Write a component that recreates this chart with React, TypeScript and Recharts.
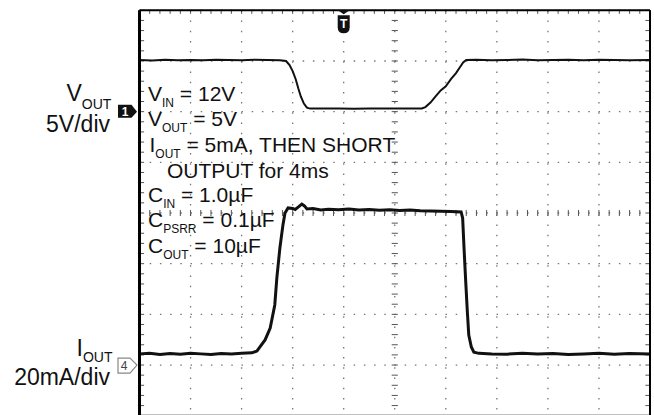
import React from 'react';
import { LineChart, Line, XAxis, YAxis, CartesianGrid, ReferenceLine, ReferenceDot } from 'recharts';

// time axis in divisions (10 div across), traces in real units
const voutTime = [0, 0.25, 0.5, 0.75, 1.0, 1.25, 1.5, 1.75, 2.0, 2.25, 2.5, 2.75, 2.87, 2.94, 3.0, 3.06, 3.11, 3.16, 3.22, 3.28, 3.34, 3.6, 3.9, 4.2, 4.5, 4.8, 5.1, 5.4, 5.53, 5.6, 5.7, 5.8, 5.9, 6.0, 6.1, 6.2, 6.28, 6.34, 6.4, 6.6, 6.9, 7.2, 7.5, 7.8, 8.1, 8.4, 8.7, 9.0, 9.3, 9.6, 10];
const voutVolts = [5.1, 5.05, 5.12, 5.08, 5.1, 5.06, 5.12, 5.1, 5.08, 5.11, 5.1, 5.08, 5.0, 4.6, 4.0, 3.2, 2.3, 1.5, 0.8, 0.4, 0.3, 0.3, 0.32, 0.28, 0.3, 0.3, 0.31, 0.3, 0.32, 0.45, 0.9, 1.5, 2.1, 2.5, 3.2, 3.8, 4.4, 4.85, 5.1, 5.12, 5.08, 5.1, 5.14, 5.07, 5.1, 5.12, 5.08, 5.11, 5.1, 5.06, 5.1];

const ioutTime = [0, 0.2, 0.4, 0.6, 0.8, 1.0, 1.2, 1.4, 1.6, 1.8, 2.0, 2.2, 2.3, 2.36, 2.46, 2.56, 2.65, 2.69, 2.75, 2.81, 2.85, 2.91, 3.0, 3.05, 3.12, 3.18, 3.23, 3.28, 3.4, 3.55, 3.7, 3.9, 4.1, 4.3, 4.5, 4.7, 4.9, 5.1, 5.3, 5.5, 5.7, 5.9, 6.1, 6.3, 6.33, 6.36, 6.39, 6.42, 6.45, 6.5, 6.55, 6.65, 6.9, 7.2, 7.5, 7.8, 8.1, 8.4, 8.7, 9.0, 9.3, 9.6, 10];
const ioutMilliamps = [4.4, 4.6, 4.2, 4.5, 4.3, 4.6, 4.4, 4.2, 4.5, 4.4, 4.6, 4.8, 5.5, 7.2, 9.9, 14.6, 23.7, 34.3, 46.2, 55.3, 60.0, 62.0, 61.8, 61.4, 62.5, 63.5, 62.8, 61.6, 61.8, 61.2, 61.5, 61.3, 61.6, 61.2, 61.4, 61.1, 61.3, 61.0, 61.2, 60.9, 60.8, 60.7, 60.6, 60.4, 58.0, 45.0, 33.0, 21.7, 11.8, 7.1, 5.1, 4.6, 4.4, 4.3, 4.6, 4.4, 4.5, 4.2, 4.4, 4.6, 4.3, 4.5, 4.4];

// screen divisions: 10 across (time), 8 down; channel 1 is 5 V/div, ground 2 div below top
const xDivs = [0, 1, 2, 3, 4, 5, 6, 7, 8, 9, 10];
const vDivs = [-30, -25, -20, -15, -10, -5, 0, 5, 10];

const voutData = voutTime.map((t, k) => ({ t, v: voutVolts[k] }));
const ioutData = ioutTime.map((t, k) => ({ t, i: ioutMilliamps[k] }));

// minor ticks every 0.2 div (0.2 div = 1 V on channel 1)
const minorX = Array.from({ length: 51 }, (_, k) => +(k * 0.2).toFixed(1));
const minorV = Array.from({ length: 41 }, (_, k) => k - 30);

const FONT = '"Liberation Sans", Arial, sans-serif';
const TICK = '#555';

const Ch1Marker = ({ cx, cy }: any) => (
  <g fontFamily={FONT} fill="#111">
    <text x={cx - 73} y={cy - 11} fontSize={23}>
      V<tspan fontSize={14} dy={8.5}>OUT</tspan>
    </text>
    <text x={cx - 29.5} y={cy + 20.5} fontSize={23} textAnchor="end">5V/div</text>
    <path d={`M${cx - 21.5},${cy - 7} L${cx - 8},${cy - 7} L${cx - 2.5},${cy} L${cx - 8},${cy + 6} L${cx - 21.5},${cy + 6} Z`} fill="#111" />
    <text x={cx - 14.5} y={cy + 4.5} fontSize={12} fontWeight="bold" fill="#fff" textAnchor="middle">1</text>
  </g>
);

const Ch4Marker = ({ cx, cy }: any) => (
  <g fontFamily={FONT} fill="#111">
    <text x={cx - 63} y={cy - 9} fontSize={23}>
      I<tspan fontSize={14} dy={6}>OUT</tspan>
    </text>
    <text x={cx - 29.5} y={cy + 19.5} fontSize={23} textAnchor="end">20mA/div</text>
    <path d={`M${cx - 21.5},${cy - 7} L${cx - 9.5},${cy - 7} L${cx - 2.5},${cy} L${cx - 9.5},${cy + 8} L${cx - 21.5},${cy + 8} Z`} fill="#fff" stroke="#888" strokeWidth={1.2} />
    <text x={cx - 15.5} y={cy + 5} fontSize={12} fill="#444" textAnchor="middle">4</text>
  </g>
);

const TrigMarker = ({ cx, cy }: any) => (
  <g fontFamily={FONT}>
    <path d={`M${cx - 6},${cy} L${cx + 6},${cy} L${cx},${cy + 4} Z`} fill="#111" />
    <path d={`M${cx - 6},${cy + 5} L${cx + 6},${cy + 5} L${cx + 6},${cy + 17} Q${cx + 6},${cy + 23} ${cx},${cy + 23} Q${cx - 6},${cy + 23} ${cx - 6},${cy + 17} Z`} fill="#111" />
    <text x={cx} y={cy + 18} fontSize={12} fontWeight="bold" fill="#fff" textAnchor="middle">T</text>
  </g>
);

const Notes = ({ cx, cy }: any) => {
  const x = cx + 8.5;
  const sub = { fontSize: 12, dy: 6 };
  const back = { dy: -6 };
  return (
    <g fontFamily={FONT} fill="#111" fontSize={21}>
      <text x={x} y={cy + 91}>V<tspan {...sub}>IN</tspan><tspan {...back}> = 12V</tspan></text>
      <text x={x} y={cy + 116}>V<tspan {...sub}>OUT</tspan><tspan {...back}> = 5V</tspan></text>
      <text x={x + 1.5} y={cy + 141.5}>I<tspan {...sub}>OUT</tspan><tspan {...back}> = 5mA, THEN SHORT</tspan></text>
      <text x={x + 19} y={cy + 167.5}>OUTPUT for 4ms</text>
      <text x={x} y={cy + 191.5}>C<tspan {...sub}>IN</tspan><tspan {...back}> = 1.0µF</tspan></text>
      <text x={x} y={cy + 217}>C<tspan {...sub}>PSRR</tspan><tspan {...back}> = 0.1µF</tspan></text>
      <text x={x} y={cy + 242.5}>C<tspan {...sub}>OUT</tspan><tspan {...back}> = 10µF</tspan></text>
    </g>
  );
};

export default function App() {
  return (
    <div style={{ position: 'absolute', left: 0, top: 0, width: 654, height: 415, overflow: 'hidden', background: '#fff' }}>
      <LineChart width={654} height={430} margin={{ top: 10.3, right: 4, bottom: 14.3, left: 139.5 }}>
        <XAxis xAxisId="t" type="number" dataKey="t" domain={[0, 10]} ticks={xDivs} hide allowDataOverflow />
        <YAxis yAxisId="v" type="number" domain={[-30, 10]} ticks={vDivs} hide allowDataOverflow />
        <YAxis yAxisId="i" type="number" domain={[-20, 140]} hide allowDataOverflow />
        <CartesianGrid xAxisId="t" yAxisId="v" stroke="#777" strokeWidth={1.3} strokeDasharray="1.5 8.7" />

        {/* minor ticks on the center cross */}
        {minorV.map((y) => (
          <ReferenceLine key={`cy${y}`} xAxisId="t" yAxisId="v" segment={[{ x: 4.94, y }, { x: 5.06, y }]} stroke={TICK} strokeWidth={1} />
        ))}
        {minorX.map((x) => (
          <ReferenceLine key={`cx${x}`} xAxisId="t" yAxisId="v" segment={[{ x, y: -10.3 }, { x, y: -9.7 }]} stroke={TICK} strokeWidth={1} />
        ))}
        {/* minor ticks along the frame */}
        {minorV.map((y) => (
          <ReferenceLine key={`ly${y}`} xAxisId="t" yAxisId="v" segment={[{ x: 0, y }, { x: 0.09, y }]} stroke={TICK} strokeWidth={1} />
        ))}
        {minorV.map((y) => (
          <ReferenceLine key={`ry${y}`} xAxisId="t" yAxisId="v" segment={[{ x: 9.91, y }, { x: 10, y }]} stroke={TICK} strokeWidth={1} />
        ))}
        {minorX.map((x) => (
          <ReferenceLine key={`tx${x}`} xAxisId="t" yAxisId="v" segment={[{ x, y: 10 }, { x, y: 9.65 }]} stroke={TICK} strokeWidth={1} />
        ))}

        <Line xAxisId="t" yAxisId="v" data={voutData} dataKey="v" type="linear" stroke="#111" strokeWidth={2} dot={false} isAnimationActive={false} />
        <Line xAxisId="t" yAxisId="i" data={ioutData} dataKey="i" type="linear" stroke="#111" strokeWidth={3} dot={false} isAnimationActive={false} />

        {/* frame */}
        <ReferenceLine xAxisId="t" yAxisId="v" x={0} stroke="#000" strokeWidth={3} />
        <ReferenceLine xAxisId="t" yAxisId="v" x={10} stroke="#000" strokeWidth={2} />
        <ReferenceLine xAxisId="t" yAxisId="v" y={10} stroke="#000" strokeWidth={2} />
        <ReferenceLine xAxisId="t" yAxisId="v" y={-30} stroke="#000" strokeWidth={2} />

        <ReferenceDot xAxisId="t" yAxisId="v" x={0} y={0} r={1} shape={Ch1Marker} />
        <ReferenceDot xAxisId="t" yAxisId="i" x={0} y={0} r={1} shape={Ch4Marker} />
        <ReferenceDot xAxisId="t" yAxisId="v" x={4} y={10} r={1} shape={TrigMarker} />
        <ReferenceDot xAxisId="t" yAxisId="v" x={0} y={10} r={1} shape={Notes} />
      </LineChart>
    </div>
  );
}
